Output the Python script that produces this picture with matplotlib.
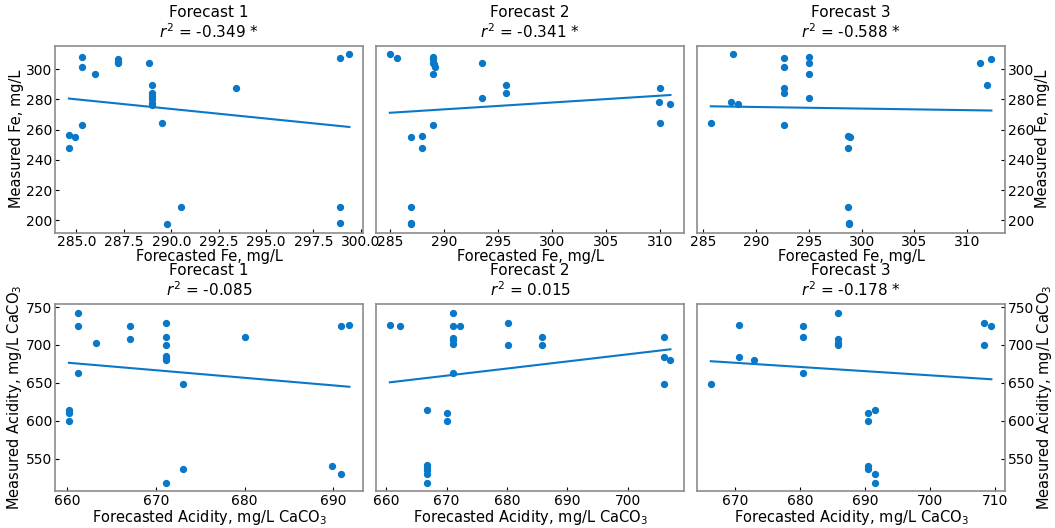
import numpy as np
import matplotlib
matplotlib.use('Agg')
import matplotlib.pyplot as plt
from matplotlib.ticker import MultipleLocator

# forecast vs measured iron (mg/L)
fe_x1 = [284.6, 284.6, 284.9, 285.3, 285.3, 285.3, 286.0, 287.2, 287.2, 287.2, 288.8, 289.0, 289.0,
         289.0, 289.0, 289.0, 289.0, 289.5, 289.8, 290.5, 293.4, 298.9, 299.4, 298.9, 298.9]
fe_y1 = [256.3, 248.0, 255.2, 308.0, 301.7, 263.3, 297.0, 306.8, 305.0, 304.0, 304.1, 289.7, 284.3,
         282.0, 280.0, 278.0, 276.5, 264.2, 197.6, 208.7, 287.3, 307.4, 309.8, 208.7, 198.5]
fe_x2 = [285.0, 285.7, 289.0, 289.0, 289.0, 289.1, 289.2, 289.0, 293.5, 293.5, 295.8, 295.8,
         310.0, 309.9, 311.0, 310.0, 289.0, 287.0, 288.0, 288.0, 287.0, 287.0, 287.0]
fe_y2 = [309.8, 307.4, 308.3, 306.6, 304.4, 303.3, 301.7, 296.9, 304.1, 281.0, 289.7, 284.3,
         287.3, 278.6, 277.1, 264.2, 263.3, 255.2, 256.1, 248.0, 208.7, 198.5, 197.6]
fe_x3 = [285.7, 287.6, 287.8, 288.3, 292.6, 292.6, 292.6, 292.6, 292.6, 295.0, 295.0, 295.0, 295.0,
         298.7, 298.9, 298.7, 298.75, 298.8, 298.8, 311.2, 312.3, 311.9]
fe_y3 = [264.2, 278.6, 309.8, 277.1, 307.2, 301.7, 287.3, 284.3, 263.3, 307.9, 303.9, 296.9, 281.0,
         256.1, 255.2, 248.0, 208.7, 198.5, 197.6, 304.1, 306.6, 289.7]

# forecast vs measured acidity (mg/L CaCO3)
ac_x1 = [661.2, 661.2, 661.2, 660.2, 660.2, 660.2, 663.2, 667.1, 667.1, 671.1, 671.1, 671.1,
         671.1, 671.1, 671.1, 673.1, 673.1, 671.1, 680.0, 690.8, 691.8, 689.8, 690.8]
ac_y1 = [742.3, 724.4, 662.5, 614.5, 610.0, 600.4, 702.1, 724.4, 708.2, 728.4, 710.4, 700.0,
         685.2, 682.5, 680.0, 648.6, 537.0, 518.6, 710.4, 724.4, 726.6, 540.2, 530.2]
ac_x2 = [660.6, 662.3, 671.1, 671.1, 672.2, 671.1, 671.1, 671.1, 671.1, 666.7, 670.0, 670.0,
         666.7, 666.7, 666.7, 666.7, 666.7, 680.2, 680.2, 685.8, 685.8, 706.0, 706.0, 707.1, 706.0]
ac_y2 = [726.6, 724.4, 742.3, 724.4, 724.4, 709.1, 706.0, 701.7, 662.9, 614.5, 610.6, 600.4,
         541.1, 537.6, 535.0, 530.2, 518.6, 728.8, 700.4, 710.4, 700.4, 710.4, 684.2, 680.7, 648.5]
ac_x3 = [666.2, 670.5, 670.5, 672.8, 680.5, 680.5, 680.5, 685.9, 685.9, 685.9, 685.9, 690.5,
         690.5, 691.6, 690.5, 690.5, 691.6, 691.6, 708.4, 708.4, 709.5]
ac_y3 = [648.5, 726.6, 684.7, 680.7, 724.4, 710.4, 662.5, 742.3, 708.2, 702.1, 700.0, 610.6,
         600.4, 614.5, 540.2, 537.0, 530.2, 518.6, 728.4, 700.0, 724.4]

# trend lines (slope, intercept) and r^2 labels
fe_fits = [(-1.27, 642.05), (0.452, 142.38), (-0.105, 305.49)]
ac_fits = [(-1.0, 1336.7), (0.936, 32.45), (-0.55, 1045.0)]
fe_r2 = ['-0.349 *', '-0.341 *', '-0.588 *']
ac_r2 = ['-0.085', '0.015', '-0.178 *']

fe_xstep = [2.5, 5, 5]
ac_xstep = [10, 10, 10]

blue = '#0a78c8'

fig, axes = plt.subplots(2, 3, figsize=(10.55, 5.28), dpi=100, sharey='row')
plt.subplots_adjust(left=0.052, right=0.953, top=0.913, bottom=0.07, wspace=0.04, hspace=0.385)

rows = [
    ([fe_x1, fe_x2, fe_x3], [fe_y1, fe_y2, fe_y3], fe_fits, fe_r2, fe_xstep, 20,
     'Forecasted Fe, mg/L', 'Measured Fe, mg/L'),
    ([ac_x1, ac_x2, ac_x3], [ac_y1, ac_y2, ac_y3], ac_fits, ac_r2, ac_xstep, 50,
     'Forecasted Acidity, mg/L CaCO$_3$', 'Measured Acidity, mg/L CaCO$_3$'),
]

for r, (xs, ys, fits, r2s, xsteps, ystep, xlab, ylab) in enumerate(rows):
    for c in range(3):
        ax = axes[r, c]
        x = np.array(xs[c])
        y = np.array(ys[c])
        ax.scatter(x, y, s=18, color=blue, zorder=3)
        m, b = fits[c]
        xx = np.array([x.min(), x.max()])
        ax.plot(xx, m * xx + b, color=blue, lw=1.5)
        ax.xaxis.set_major_locator(MultipleLocator(xsteps[c]))
        ax.yaxis.set_major_locator(MultipleLocator(ystep))
        ax.set_title('Forecast %d\n$r^2$ = %s' % (c + 1, r2s[c]), fontsize=11, linespacing=1.15, pad=6)
        ax.set_xlabel(xlab, fontsize=10.5, labelpad=0)
        ax.tick_params(direction='in', labelsize=10, length=3, pad=2)
        for s in ax.spines.values():
            s.set_color('#8c8c8c')
            s.set_linewidth(1.2)
        if c == 0:
            ax.set_ylabel(ylab, fontsize=10.5, labelpad=1)
        elif c == 1:
            ax.tick_params(axis='y', left=False, labelleft=False)
        else:
            ax.yaxis.tick_right()
            ax.yaxis.set_label_position('right')
            ax.set_ylabel(ylab, fontsize=10.5, labelpad=0)
            ax.tick_params(axis='y', labelright=True)

fig.savefig('out.png', dpi=100)
